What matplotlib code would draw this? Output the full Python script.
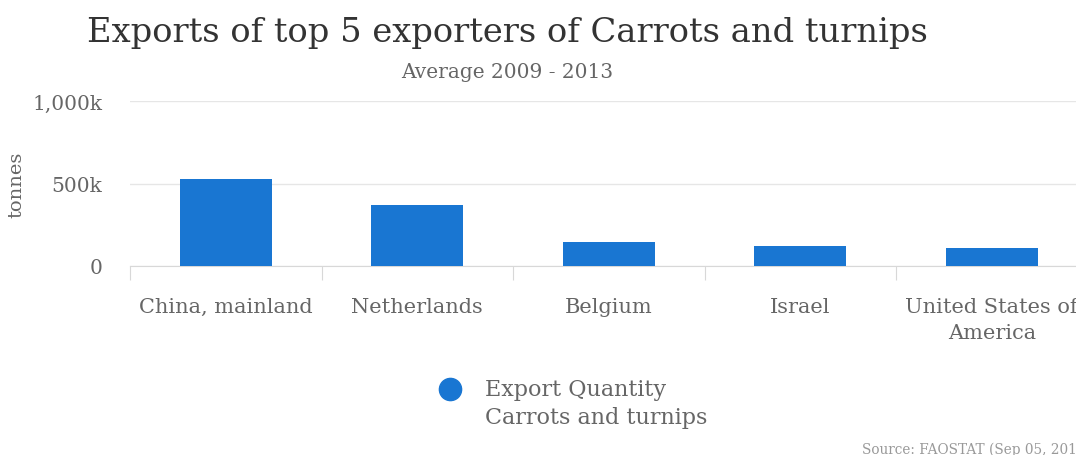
import matplotlib
matplotlib.use('Agg')
import matplotlib.pyplot as plt
from matplotlib.lines import Line2D
from matplotlib.ticker import FuncFormatter

countries = ['China, mainland', 'Netherlands', 'Belgium', 'Israel', 'United States of\nAmerica']
export_qty = [527000, 370000, 145000, 121000, 109000]
yticks = [0, 500000, 1000000]

plt.rcParams['font.family'] = ['DejaVu Serif']
blue = '#1976D2'
grey = '#666666'

fig = plt.figure(figsize=(10.76, 4.56), dpi=100)
ax = fig.add_axes([130/1076, 189/456, 957.5/1076, 165/456])

x = range(len(countries))
ax.bar(x, export_qty, width=0.48, color=blue, zorder=3)
ax.set_xlim(-0.5, len(countries) - 0.5)
ax.set_ylim(0, 1000000)
ax.set_yticks(yticks)
ax.yaxis.set_major_formatter(FuncFormatter(lambda v, p: '0' if v == 0 else '{:,.0f}k'.format(v / 1000)))
ax.grid(axis='y', color='#e6e6e6', linewidth=1, zorder=0)
for s in ['top', 'right', 'left']:
    ax.spines[s].set_visible(False)
ax.spines['bottom'].set_color('#d8d8d8')

# boundary ticks (major) and centred category labels (minor)
ax.set_xticks([i - 0.5 for i in range(len(countries) + 1)], minor=False)
ax.set_xticklabels([])
ax.set_xticks(list(x), minor=True)
ax.set_xticklabels(countries, minor=True, linespacing=1.5)
ax.tick_params(axis='x', which='major', length=10, color='#d8d8d8')
ax.tick_params(axis='x', which='minor', length=0, pad=22, labelsize=15, labelcolor=grey)
ax.tick_params(axis='y', length=0, pad=20, labelsize=14.5, labelcolor=grey)
ax.set_ylabel('tonnes', fontsize=14, color=grey)
ax.yaxis.set_label_coords(-0.109, 0.5)

fig.text(0.472, 0.928, 'Exports of top 5 exporters of Carrots and turnips', ha='center', va='center',
         fontsize=24.3, color='#333333')
fig.text(0.4715, 0.842, 'Average 2009 - 2013', ha='center', va='center', fontsize=14.5, color=grey)

# legend: marker plus two-line label
fig.add_artist(Line2D([450/1076], [1 - 390/456], marker='o', linestyle='none', markersize=16,
                      color=blue, transform=fig.transFigure))
fig.text(485/1076, 1 - 379/456, 'Export Quantity\nCarrots and turnips', ha='left', va='top',
         fontsize=16, color=grey, linespacing=1.35)

fig.text(862/1076, 0.004, 'Source: FAOSTAT (Sep 05, 2017)', ha='left', va='baseline', fontsize=9.8, color='#999999')

plt.savefig('out.png', dpi=100)
